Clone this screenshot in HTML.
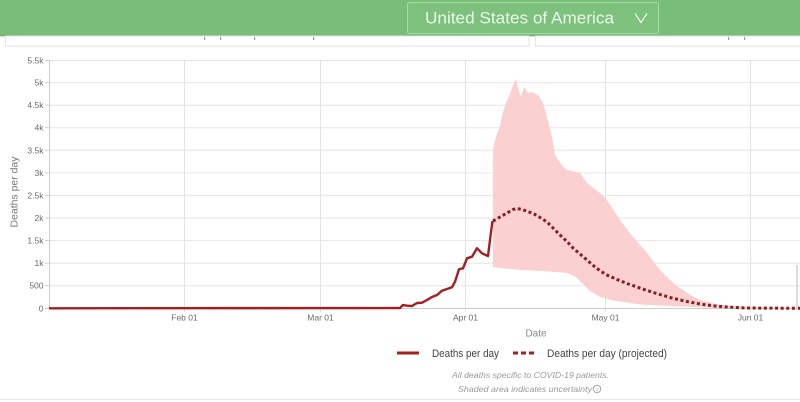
<!DOCTYPE html>
<html>
<head>
<meta charset="utf-8">
<style>
html,body{margin:0;padding:0;background:#fff;}
svg{display:block;font-family:"Liberation Sans",Arial,sans-serif;}
</style>
</head>
<body>
<svg width="800" height="402" viewBox="0 0 800 402" xmlns="http://www.w3.org/2000/svg">
  <!-- header -->
  <rect x="0" y="0" width="800" height="36" fill="#78be78"/>
  <rect x="0" y="35" width="800" height="1.5" fill="#6aa96a" opacity="0.6"/>
  <rect x="407.5" y="2.5" width="251" height="31" rx="2" fill="#7cc17c" stroke="#a9d9a9" stroke-width="1"/>
  <text x="425" y="23.5" font-size="17" fill="#eef8ee" textLength="189" lengthAdjust="spacingAndGlyphs">United States of America</text>
  <polyline points="635,13.5 641,22.5 647,13.5" fill="none" stroke="#eef8ee" stroke-width="1.2"/>

  <!-- cards under header -->
  <rect x="5.5" y="36" width="523.5" height="10" fill="#fff" stroke="#e4e4e4" stroke-width="1"/>
  <rect x="5" y="45.5" width="524" height="1.5" fill="#ececec"/>
  <rect x="535.5" y="36" width="270" height="10" fill="#fff" stroke="#e4e4e4" stroke-width="1"/>
  <rect x="535" y="45.5" width="265" height="1.5" fill="#ececec"/>
  <g fill="#9a9a9a">
    <rect x="204" y="37" width="1.2" height="3"/>
    <rect x="220" y="37" width="1.2" height="3"/>
    <rect x="254" y="37" width="1.2" height="3"/>
    <rect x="313" y="37" width="1.2" height="3"/>
    <rect x="728" y="37" width="1.2" height="3"/>
    <rect x="744" y="37" width="1.2" height="3"/>
  </g>

  <!-- horizontal gridlines -->
  <g stroke="#e6e6e6" stroke-width="1">
    <line x1="49" y1="60.5" x2="800" y2="60.5"/>
    <line x1="49" y1="82.6" x2="800" y2="82.6"/>
    <line x1="49" y1="105.2" x2="800" y2="105.2"/>
    <line x1="49" y1="127.7" x2="800" y2="127.7"/>
    <line x1="49" y1="150.3" x2="800" y2="150.3"/>
    <line x1="49" y1="172.9" x2="800" y2="172.9"/>
    <line x1="49" y1="195.4" x2="800" y2="195.4"/>
    <line x1="49" y1="218" x2="800" y2="218"/>
    <line x1="49" y1="240.6" x2="800" y2="240.6"/>
    <line x1="49" y1="263.2" x2="800" y2="263.2"/>
    <line x1="49" y1="285.7" x2="800" y2="285.7"/>
  </g>
  <!-- vertical gridlines -->
  <g stroke="#e3e3e3" stroke-width="1">
    <line x1="184.5" y1="60" x2="184.5" y2="312"/>
    <line x1="320.5" y1="60" x2="320.5" y2="312"/>
    <line x1="465.5" y1="60" x2="465.5" y2="312"/>
    <line x1="605.5" y1="60" x2="605.5" y2="312"/>
    <line x1="750.5" y1="60" x2="750.5" y2="312"/>
  </g>

  <!-- axes -->
  <line x1="49.5" y1="60" x2="49.5" y2="308.5" stroke="#cccccc" stroke-width="1"/>
  <line x1="49" y1="308.5" x2="800" y2="308.5" stroke="#cccccc" stroke-width="1"/>
  <g stroke="#cccccc" stroke-width="1">
    <line x1="45" y1="60.5" x2="49" y2="60.5"/>
    <line x1="45" y1="82.6" x2="49" y2="82.6"/>
    <line x1="45" y1="105.2" x2="49" y2="105.2"/>
    <line x1="45" y1="127.7" x2="49" y2="127.7"/>
    <line x1="45" y1="150.3" x2="49" y2="150.3"/>
    <line x1="45" y1="172.9" x2="49" y2="172.9"/>
    <line x1="45" y1="195.4" x2="49" y2="195.4"/>
    <line x1="45" y1="218" x2="49" y2="218"/>
    <line x1="45" y1="240.6" x2="49" y2="240.6"/>
    <line x1="45" y1="263.2" x2="49" y2="263.2"/>
    <line x1="45" y1="285.7" x2="49" y2="285.7"/>
    <line x1="45" y1="308.3" x2="49" y2="308.3"/>
  </g>

  <!-- y tick labels -->
  <g font-size="8.5" fill="#6a6a6a" text-anchor="end">
    <text x="43.5" y="63.5">5.5k</text>
    <text x="43.5" y="85.6">5k</text>
    <text x="43.5" y="108.2">4.5k</text>
    <text x="43.5" y="130.7">4k</text>
    <text x="43.5" y="153.3">3.5k</text>
    <text x="43.5" y="175.9">3k</text>
    <text x="43.5" y="198.4">2.5k</text>
    <text x="43.5" y="221">2k</text>
    <text x="43.5" y="243.6">1.5k</text>
    <text x="43.5" y="266.2">1k</text>
    <text x="43.5" y="288.7">500</text>
    <text x="43.5" y="311.3">0</text>
  </g>
  <text transform="translate(17.5,192) rotate(-90)" font-size="10" fill="#777" text-anchor="middle" textLength="71" lengthAdjust="spacingAndGlyphs">Deaths per day</text>

  <!-- x tick labels -->
  <g font-size="8.5" fill="#6a6a6a" text-anchor="middle">
    <text x="184.5" y="320.5">Feb 01</text>
    <text x="320.5" y="320.5">Mar 01</text>
    <text x="465.5" y="320.5">Apr 01</text>
    <text x="605.5" y="320.5">May 01</text>
    <text x="750.5" y="320.5">Jun 01</text>
  </g>
  <text x="536" y="336.5" font-size="10" fill="#8a8a8a" text-anchor="middle">Date</text>

  <!-- uncertainty band -->
  <polygon fill="#fbd0d0" points="493,267 493,150 495,140 497,134 500,126 503,112 506,103 510,94 513,85 516,79 518,88 521,97 524,87 528,93 532,92 538,95 543,103 547,117 552,137 555,155 563,167 567,170 580,173 587,183 600,193 607,200 620,220 633,237 647,253 660,270 673,283 687,293 700,300 720,305 747,307 800,308 800,308.3 720,308 680,306.5 640,304.5 613,300.5 600,297 590,291 583,284 576,277 567,273 550,271.5 540,271 520,270 505,268.5 493,267"/>

  <!-- actual line -->
  <polyline fill="none" stroke="#a31f22" stroke-width="2.4" stroke-linejoin="round" points="49,308.3 400,308 403,305 407,305.7 412,306 417,303 422,302.7 427,300 432,297 437,295 442,290.7 447,289 452,287.3 455,281.7 459,269.3 463,268.3 467,258.3 472,256.7 477,248.3 482,253.3 488,256 491,232 492.5,221"/>

  <!-- projected line -->
  <path fill="none" stroke="#8c1c1e" stroke-width="3" stroke-dasharray="3 2.6" d="M493,221 L500,217 L507,213 L513,209.5 L517,208.5 L522,209.5 L528,211.5 L534,214 L540,217.5 L547,222 L553,228 L560,235 L567,241.5 L573,248 L580,254 L587,260 L592,264.5 L597,268.5 L602,272 L607,275 L617,279.5 L627,283.5 L637,287 L647,290.5 L660,294.5 L673,298.3 L687,301.5 L700,304 L713,305.8 L727,307 L747,308 L800,308.3"/>

  <!-- right edge element -->
  <rect x="796" y="265" width="2" height="45" fill="#dcdcdc"/>

  <!-- legend -->
  <line x1="397" y1="353" x2="419" y2="353" stroke="#a31f22" stroke-width="3"/>
  <text x="432" y="357" font-size="11" fill="#444" textLength="67" lengthAdjust="spacingAndGlyphs">Deaths per day</text>
  <line x1="513" y1="353" x2="535" y2="353" stroke="#a31f22" stroke-width="3" stroke-dasharray="5 3"/>
  <text x="547" y="357" font-size="11" fill="#444" textLength="120" lengthAdjust="spacingAndGlyphs">Deaths per day (projected)</text>

  <!-- notes -->
  <text x="452" y="378" font-size="8.5" font-style="italic" fill="#9a9a9a" textLength="157" lengthAdjust="spacingAndGlyphs">All deaths specific to COVID-19 patients.</text>
  <text x="458" y="392" font-size="8.5" font-style="italic" fill="#9a9a9a" textLength="134" lengthAdjust="spacingAndGlyphs">Shaded area indicates uncertainty</text>
  <circle cx="597" cy="389" r="3.8" fill="none" stroke="#9a9a9a" stroke-width="0.8"/>
  <text x="597" y="391.5" font-size="6" fill="#9a9a9a" text-anchor="middle">i</text>

  <line x1="0" y1="399.5" x2="800" y2="399.5" stroke="#e6e6e6" stroke-width="1"/>
</svg>
</body>
</html>
